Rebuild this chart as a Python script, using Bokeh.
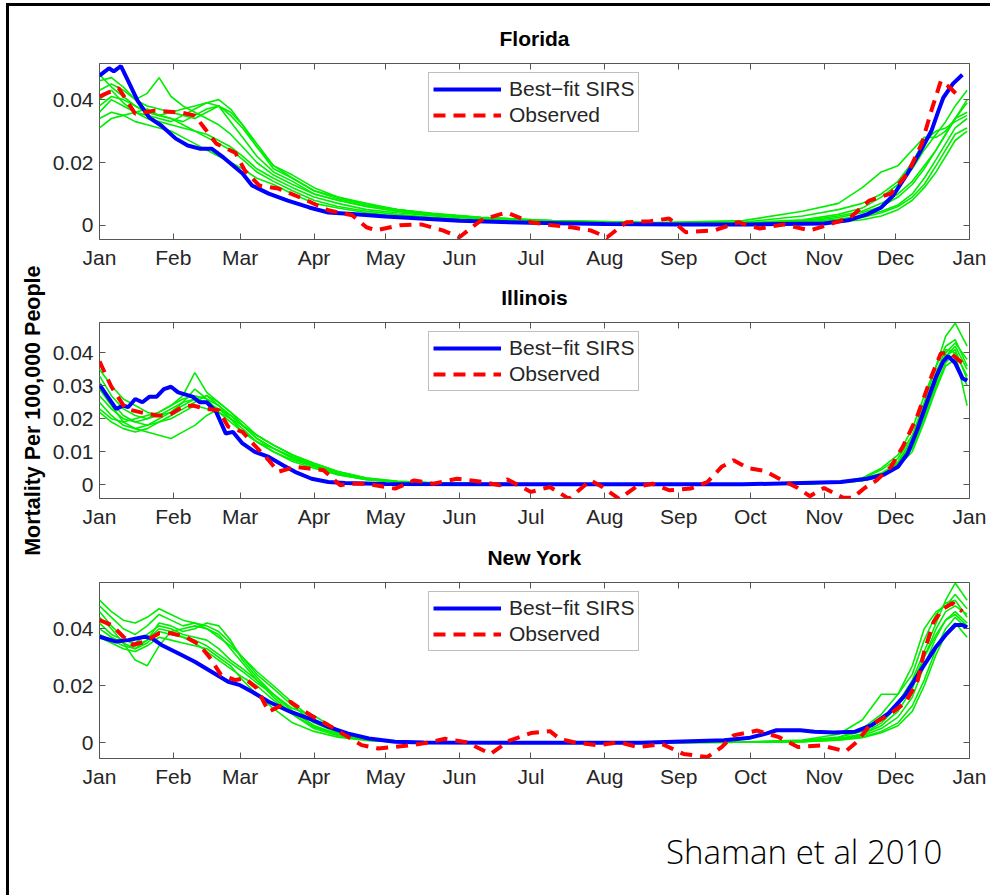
import math
from bokeh.plotting import figure
from bokeh.models import Range1d, FixedTicker, LinearAxis, Legend, LegendItem, Div
from bokeh.layouts import column, row
from bokeh.core.properties import value
from bokeh.embed import file_html
from bokeh.resources import INLINE

# ---------------- data ----------------
MONTH_DAYS = [0, 31, 59, 90, 120, 151, 181, 212, 243, 273, 304, 334, 365]
MONTH_LABELS = ["Jan", "Feb", "Mar", "Apr", "May", "Jun", "Jul", "Aug", "Sep", "Oct", "Nov", "Dec", "Jan"]

# day-of-year grid used by the ensemble (green) simulations
ENS_DAY = [0, 5, 10, 15, 20, 25, 30, 35, 40, 45, 50, 55, 60, 66, 73, 81, 90, 100, 112, 125,
           140, 160, 190, 230, 270, 295, 310, 320, 328, 335, 341, 346, 351, 355, 359, 364]

# ---- Florida ----
FL_ENS = [
    [0.031, 0.034, 0.035, 0.036, 0.037, 0.035, 0.034, 0.032, 0.030, 0.028, 0.026, 0.024, 0.021, 0.017, 0.014, 0.011, 0.008, 0.006, 0.0045, 0.0035, 0.0025, 0.0017, 0.001, 0.0006, 0.0005, 0.0008, 0.0015, 0.0025, 0.004, 0.006, 0.009, 0.013, 0.019, 0.024, 0.029, 0.031],
    [0.034, 0.036, 0.035, 0.033, 0.032, 0.031, 0.030, 0.028, 0.026, 0.024, 0.022, 0.020, 0.018, 0.015, 0.013, 0.010, 0.007, 0.0055, 0.004, 0.003, 0.0022, 0.0015, 0.0009, 0.0005, 0.0004, 0.0006, 0.001, 0.0018, 0.003, 0.005, 0.008, 0.012, 0.017, 0.022, 0.027, 0.030],
    [0.036, 0.040, 0.038, 0.036, 0.034, 0.033, 0.032, 0.031, 0.030, 0.029, 0.027, 0.025, 0.022, 0.018, 0.015, 0.012, 0.009, 0.007, 0.005, 0.004, 0.003, 0.002, 0.0012, 0.0007, 0.0006, 0.0015, 0.003, 0.0045, 0.007, 0.010, 0.014, 0.019, 0.024, 0.029, 0.034, 0.036],
    [0.038, 0.041, 0.040, 0.038, 0.036, 0.035, 0.036, 0.037, 0.038, 0.039, 0.038, 0.033, 0.028, 0.022, 0.017, 0.014, 0.010, 0.008, 0.006, 0.0045, 0.0033, 0.0023, 0.0013, 0.0008, 0.001, 0.003, 0.005, 0.007, 0.010, 0.014, 0.020, 0.027, 0.030, 0.031, 0.033, 0.035],
    [0.040, 0.043, 0.039, 0.036, 0.035, 0.034, 0.033, 0.035, 0.037, 0.039, 0.040, 0.037, 0.032, 0.025, 0.018, 0.015, 0.011, 0.009, 0.0065, 0.005, 0.0036, 0.0025, 0.0015, 0.0009, 0.0007, 0.0012, 0.0025, 0.004, 0.006, 0.009, 0.013, 0.018, 0.024, 0.029, 0.034, 0.040],
    [0.043, 0.045, 0.043, 0.040, 0.038, 0.037, 0.036, 0.035, 0.034, 0.036, 0.038, 0.036, 0.032, 0.026, 0.019, 0.016, 0.012, 0.009, 0.007, 0.005, 0.0038, 0.0026, 0.0015, 0.0009, 0.0008, 0.0018, 0.0035, 0.0055, 0.009, 0.013, 0.018, 0.024, 0.029, 0.033, 0.038, 0.043],
    [0.046, 0.047, 0.044, 0.040, 0.042, 0.047, 0.041, 0.038, 0.036, 0.034, 0.032, 0.029, 0.025, 0.020, 0.016, 0.013, 0.010, 0.008, 0.006, 0.0045, 0.0033, 0.0023, 0.0013, 0.0008, 0.0015, 0.0045, 0.007, 0.012, 0.017, 0.019, 0.024, 0.028, 0.028, 0.030, 0.034, 0.039],
    [0.048, 0.044, 0.041, 0.038, 0.036, 0.035, 0.034, 0.033, 0.035, 0.037, 0.038, 0.035, 0.031, 0.025, 0.019, 0.015, 0.011, 0.0085, 0.0065, 0.005, 0.0036, 0.0025, 0.0014, 0.0008, 0.0007, 0.001, 0.002, 0.003, 0.0045, 0.0065, 0.010, 0.015, 0.021, 0.026, 0.031, 0.034],
]
FL_FIT_DAY = [0, 4, 6, 9, 12, 16, 21, 26, 32, 37, 42, 47, 52, 57, 60, 64, 71, 79, 88, 96,
              106, 120, 151, 181, 212, 243, 273, 304, 314, 322, 328, 333, 339, 344, 349, 352, 354, 358, 362]
FL_FIT = [0.0476, 0.050, 0.049, 0.0507, 0.046, 0.0396, 0.0342, 0.0317, 0.0276, 0.0254,
          0.0244, 0.0244, 0.0216, 0.0184, 0.0165, 0.0127, 0.0101, 0.0079, 0.0057, 0.0041,
          0.0036, 0.0028, 0.0015, 0.0008, 0.0004, 0.0003, 0.0003, 0.0006, 0.0016, 0.0035,
          0.0057, 0.0095, 0.0165, 0.023, 0.030, 0.0365, 0.0406, 0.045, 0.0479]
FL_OBS_DAY = [0, 8, 15, 23, 35, 40, 44, 49, 57, 61, 67, 75, 85, 96, 106, 112, 116, 126, 135, 144,
              151, 160, 168, 171, 181, 190, 198, 206, 213, 221, 231, 239, 246, 258, 268, 277, 287, 298, 305, 315,
              323, 332, 339, 345, 349, 353, 357, 361]
FL_OBS = [0.041, 0.0437, 0.0355, 0.0365, 0.0358, 0.0349, 0.031, 0.026, 0.0231, 0.0174,
          0.0127, 0.0117, 0.0086, 0.0048, 0.0032, -0.0006, -0.0016, 0.0, 0.0003, -0.0016,
          -0.0038, 0.0016, 0.0035, 0.004, 0.001, 0.0, -0.0006, -0.0016, -0.0038, 0.001,
          0.0013, 0.0022, -0.0022, -0.0016, 0.001, -0.001, 0.0003, -0.0016, 0.0, 0.0025,
          0.0079, 0.0101, 0.0165, 0.026, 0.0365, 0.046, 0.0437, 0.0406]

# ---- Illinois ----
IL_ENS = [
    [0.035, 0.030, 0.026, 0.024, 0.022, 0.021, 0.022, 0.024, 0.026, 0.025, 0.023, 0.020, 0.017, 0.013, 0.010, 0.007, 0.005, 0.003, 0.0015, 0.0008, 0.0005, 0.0003, 0.0002, 0.0002, 0.0002, 0.0003, 0.0006, 0.0012, 0.0025, 0.006, 0.012, 0.022, 0.032, 0.040, 0.043, 0.038],
    [0.033, 0.027, 0.023, 0.021, 0.020, 0.022, 0.024, 0.027, 0.034, 0.028, 0.025, 0.022, 0.018, 0.014, 0.011, 0.008, 0.006, 0.0035, 0.0018, 0.0009, 0.0005, 0.0003, 0.0002, 0.0002, 0.0002, 0.0004, 0.0008, 0.0018, 0.0045, 0.008, 0.015, 0.025, 0.036, 0.045, 0.049, 0.042],
    [0.031, 0.025, 0.021, 0.019, 0.018, 0.019, 0.021, 0.023, 0.025, 0.027, 0.025, 0.022, 0.019, 0.015, 0.012, 0.009, 0.006, 0.0035, 0.0018, 0.0009, 0.0005, 0.0003, 0.0002, 0.0002, 0.0002, 0.0003, 0.0007, 0.0015, 0.003, 0.007, 0.014, 0.024, 0.034, 0.041, 0.040, 0.024],
    [0.029, 0.024, 0.019, 0.017, 0.016, 0.015, 0.014, 0.016, 0.018, 0.021, 0.023, 0.021, 0.018, 0.014, 0.011, 0.008, 0.0055, 0.003, 0.0016, 0.0008, 0.0005, 0.0003, 0.0002, 0.0002, 0.0002, 0.0003, 0.0006, 0.0013, 0.003, 0.006, 0.012, 0.021, 0.031, 0.039, 0.042, 0.035],
    [0.027, 0.023, 0.020, 0.019, 0.020, 0.021, 0.023, 0.025, 0.026, 0.027, 0.024, 0.020, 0.016, 0.013, 0.010, 0.0075, 0.0055, 0.0032, 0.0016, 0.0009, 0.0005, 0.0003, 0.0002, 0.0002, 0.0002, 0.0004, 0.0009, 0.002, 0.005, 0.009, 0.017, 0.027, 0.036, 0.042, 0.044, 0.036],
    [0.025, 0.021, 0.018, 0.017, 0.018, 0.020, 0.022, 0.025, 0.029, 0.026, 0.022, 0.019, 0.016, 0.013, 0.011, 0.0085, 0.006, 0.0035, 0.0018, 0.0009, 0.0005, 0.0003, 0.0002, 0.0002, 0.0002, 0.0003, 0.0007, 0.0016, 0.0035, 0.0065, 0.013, 0.023, 0.033, 0.039, 0.041, 0.032],
    [0.023, 0.020, 0.019, 0.020, 0.021, 0.022, 0.024, 0.026, 0.027, 0.026, 0.024, 0.021, 0.018, 0.015, 0.012, 0.009, 0.0065, 0.004, 0.002, 0.001, 0.0006, 0.0004, 0.0002, 0.0002, 0.0002, 0.0003, 0.0006, 0.0014, 0.003, 0.006, 0.011, 0.020, 0.030, 0.037, 0.040, 0.033],
    [0.022, 0.019, 0.017, 0.016, 0.017, 0.019, 0.020, 0.022, 0.024, 0.023, 0.022, 0.020, 0.018, 0.015, 0.012, 0.009, 0.0065, 0.004, 0.002, 0.001, 0.0006, 0.0004, 0.0002, 0.0002, 0.0002, 0.0003, 0.0005, 0.0012, 0.0028, 0.0055, 0.010, 0.019, 0.029, 0.036, 0.038, 0.030],
]
IL_FIT_DAY = [0, 7, 10, 12, 15, 18, 21, 24, 27, 30, 33, 39, 42, 45, 49, 53, 56, 60, 65, 71,
              77, 82, 89, 96, 103, 120, 180, 270, 311, 322, 329, 335, 339, 343, 347, 351, 354, 356, 359, 362, 364]
IL_FIT = [0.0303, 0.023, 0.024, 0.0235, 0.026, 0.025, 0.0267, 0.0267, 0.029, 0.0297,
          0.028, 0.0267, 0.025, 0.025, 0.022, 0.0155, 0.016, 0.0125, 0.010, 0.0084,
          0.0059, 0.0039, 0.0018, 0.0008, 0.0005, 0.0002, 0.0001, 0.0001, 0.0008, 0.0018,
          0.003, 0.0054, 0.0094, 0.0165, 0.0247, 0.0328, 0.0374, 0.039, 0.0369, 0.0323, 0.0315]
IL_OBS_DAY = [0, 5, 11, 17, 24, 29, 35, 39, 45, 50, 54, 60, 65, 71, 75, 82, 88, 94, 101, 105,
              112, 124, 132, 140, 150, 161, 168, 171, 181, 189, 197, 206, 211, 218, 225, 232, 239, 248, 255, 261,
              266, 272, 279, 286, 293, 298, 304, 312, 316, 321, 326, 332, 337, 343, 349, 353, 357, 362]
IL_OBS = [0.0374, 0.0297, 0.023, 0.022, 0.021, 0.021, 0.0237, 0.024, 0.023, 0.0226,
          0.0176, 0.016, 0.012, 0.0074, 0.0039, 0.0054, 0.0049, 0.0044, -0.0002, 0.0003,
          0.0003, -0.0012, 0.0013, 0.0003, 0.0018, 0.0008, -0.0002, 0.0016, -0.0022, -0.0007,
          -0.0043, 0.0013, -0.0007, -0.0043, -0.0007, 0.0003, -0.0017, -0.0012, 0.0008, 0.0054,
          0.0074, 0.005, 0.0042, 0.0015, -0.001, -0.0035, -0.001, -0.004, -0.004, -0.001,
          0.0013, 0.0054, 0.0115, 0.0206, 0.0328, 0.0399, 0.0399, 0.0369]

# ---- New York ----
NY_ENS = [
    [0.050, 0.046, 0.043, 0.042, 0.044, 0.047, 0.045, 0.043, 0.042, 0.040, 0.037, 0.034, 0.030, 0.025, 0.020, 0.014, 0.008, 0.004, 0.0015, 0.0005, 0.0002, 0.0001, 0.0001, 0.0001, 0.0002, 0.0008, 0.002, 0.004, 0.008, 0.014, 0.022, 0.032, 0.042, 0.050, 0.056, 0.050],
    [0.048, 0.044, 0.040, 0.038, 0.041, 0.045, 0.043, 0.041, 0.042, 0.041, 0.039, 0.035, 0.030, 0.024, 0.019, 0.013, 0.007, 0.0035, 0.0013, 0.0004, 0.0002, 0.0001, 0.0001, 0.0001, 0.0002, 0.0006, 0.0018, 0.005, 0.010, 0.017, 0.027, 0.040, 0.046, 0.048, 0.052, 0.047],
    [0.046, 0.041, 0.037, 0.034, 0.036, 0.042, 0.041, 0.039, 0.040, 0.042, 0.041, 0.036, 0.029, 0.023, 0.017, 0.011, 0.006, 0.003, 0.001, 0.0004, 0.0002, 0.0001, 0.0001, 0.0001, 0.0003, 0.001, 0.003, 0.008, 0.017, 0.017, 0.024, 0.036, 0.045, 0.049, 0.050, 0.044],
    [0.044, 0.040, 0.035, 0.029, 0.027, 0.034, 0.039, 0.040, 0.041, 0.040, 0.038, 0.033, 0.028, 0.022, 0.016, 0.010, 0.005, 0.0025, 0.0009, 0.0003, 0.0001, 0.0001, 0.0001, 0.0001, 0.0002, 0.0006, 0.0015, 0.003, 0.006, 0.011, 0.019, 0.030, 0.040, 0.046, 0.048, 0.045],
    [0.042, 0.038, 0.036, 0.035, 0.038, 0.041, 0.040, 0.038, 0.037, 0.036, 0.033, 0.029, 0.026, 0.022, 0.017, 0.011, 0.006, 0.003, 0.0011, 0.0004, 0.0002, 0.0001, 0.0001, 0.0001, 0.0002, 0.0005, 0.0012, 0.0025, 0.005, 0.009, 0.016, 0.027, 0.037, 0.043, 0.046, 0.042],
    [0.040, 0.037, 0.035, 0.033, 0.035, 0.039, 0.038, 0.037, 0.036, 0.034, 0.031, 0.028, 0.025, 0.021, 0.017, 0.012, 0.0095, 0.0045, 0.0015, 0.0005, 0.0002, 0.0001, 0.0001, 0.0001, 0.0002, 0.0004, 0.001, 0.002, 0.004, 0.007, 0.013, 0.022, 0.033, 0.040, 0.044, 0.040],
    [0.038, 0.036, 0.034, 0.033, 0.036, 0.040, 0.039, 0.037, 0.035, 0.032, 0.029, 0.026, 0.023, 0.020, 0.015, 0.010, 0.0055, 0.003, 0.001, 0.0004, 0.0002, 0.0001, 0.0001, 0.0001, 0.0002, 0.0004, 0.0009, 0.0018, 0.0035, 0.006, 0.011, 0.020, 0.031, 0.038, 0.042, 0.037],
    [0.037, 0.035, 0.033, 0.032, 0.034, 0.037, 0.036, 0.035, 0.034, 0.033, 0.030, 0.027, 0.022, 0.017, 0.012, 0.007, 0.004, 0.002, 0.0008, 0.0003, 0.0001, 0.0001, 0.0001, 0.0001, 0.0002, 0.0005, 0.0012, 0.003, 0.007, 0.013, 0.021, 0.030, 0.038, 0.043, 0.045, 0.041],
]
NY_FIT_DAY = [0, 7, 12, 19, 22, 26, 33, 40, 47, 54, 59, 64, 71, 80, 88, 96, 104, 113, 124, 136,
              180, 227, 262, 273, 280, 284, 294, 300, 308, 317, 324, 331, 338, 345, 351, 355, 359, 362, 364]
NY_FIT = [0.0372, 0.0355, 0.036, 0.0372, 0.0366, 0.0343, 0.0314, 0.0284, 0.0249, 0.0214,
          0.0202, 0.0179, 0.0144, 0.0109, 0.0085, 0.0056, 0.0033, 0.0015, 0.0004, 0.0001,
          0.0, 0.0, 0.0009, 0.0018, 0.0033, 0.0044, 0.0044, 0.0039, 0.0036, 0.0039,
          0.0062, 0.0103, 0.0167, 0.026, 0.0337, 0.0378, 0.0413, 0.0413, 0.0404]
NY_OBS_DAY = [0, 5, 10, 14, 19, 25, 30, 36, 42, 46, 51, 57, 61, 66, 71, 75, 80, 85, 91, 96,
              103, 110, 117, 124, 131, 136, 145, 154, 164, 172, 181, 189, 193, 199, 209, 218, 226, 236, 245, 255,
              261, 266, 276, 285, 293, 303, 313, 318, 323, 331, 338, 343, 346, 350, 354, 358, 362]
NY_OBS = [0.043, 0.0413, 0.0372, 0.0343, 0.0355, 0.0384, 0.0384, 0.0372, 0.0343, 0.0302,
          0.0238, 0.022, 0.0226, 0.0191, 0.0109, 0.0126, 0.0144, 0.0115, 0.0085, 0.0062,
          0.0027, -0.0008, -0.002, -0.0014, -0.0008, -0.0002, 0.0014, 0.0002, -0.0039, 0.0008,
          0.0034, 0.0041, 0.0014, 0.0002, -0.0009, 0.0002, -0.0015, -0.0004, -0.0039, -0.005,
          -0.0015, 0.0026, 0.0043, 0.002, -0.0015, -0.0009, -0.003, 0.0005, 0.006, 0.0097,
          0.014, 0.021, 0.032, 0.0425, 0.047, 0.049, 0.046]

STATES = ["Florida", "Illinois", "New York"]
Y_RANGES = [(-0.0045, 0.0515), (-0.0042, 0.0492), (-0.0055, 0.0562)]
Y_TICKS = [[0, 0.02, 0.04], [0, 0.01, 0.02, 0.03, 0.04], [0, 0.02, 0.04]]
Y_TICK_LABELS = [["0", "0.02", "0.04"], ["0", "0.01", "0.02", "0.03", "0.04"], ["0", "0.02", "0.04"]]
Y_LABEL = "Mortality Per 100,000 People"
LEGEND_LABELS = ["Best\u2212fit SIRS", "Observed"]
CREDIT = "Shaman et al 2010"

FONT = "Liberation Sans"
FS = "21px"
BOX = "#555555"
LABEL_W = 40
PANEL_W = 939


def style_axis(ax, hidden=False):
    ax.axis_line_color = None
    ax.major_tick_in = 6
    ax.major_tick_out = 0
    ax.major_tick_line_color = BOX
    ax.minor_tick_line_color = None
    ax.major_label_text_font = FONT
    ax.major_label_text_font_size = "0px" if hidden else FS
    ax.major_label_text_color = "#262626"
    ax.major_label_standoff = 0 if hidden else 6


def make_panel(idx, ens, fit_day, fit, obs_day, obs, height, top, bottom):
    lo, hi = Y_RANGES[idx]
    p = figure(width=PANEL_W, height=height, x_range=Range1d(0, 365), y_range=Range1d(lo, hi),
               output_backend="svg", toolbar_location=None,
               min_border_left=50, min_border_right=19, min_border_top=top, min_border_bottom=bottom)
    p.grid.visible = False
    p.outline_line_color = BOX
    p.outline_line_width = 1
    p.background_fill_color = "white"
    p.border_fill_color = "white"

    xt = FixedTicker(ticks=MONTH_DAYS, minor_ticks=[])
    yt = FixedTicker(ticks=Y_TICKS[idx], minor_ticks=[])
    xa = p.xaxis[0]
    xa.ticker = xt
    xa.major_label_overrides = dict(zip(MONTH_DAYS, MONTH_LABELS))
    style_axis(xa)
    ya = p.yaxis[0]
    ya.ticker = yt
    ya.major_label_overrides = dict(zip(Y_TICKS[idx], Y_TICK_LABELS[idx]))
    style_axis(ya)

    # top axis: inward ticks only; its axis label carries the state name
    ta = LinearAxis(ticker=xt, major_label_overrides={d: "" for d in MONTH_DAYS})
    style_axis(ta, hidden=True)
    ta.axis_label = STATES[idx]
    ta.axis_label_text_font = FONT
    ta.axis_label_text_font_size = FS
    ta.axis_label_text_font_style = "bold"
    ta.axis_label_text_color = "black"
    ta.axis_label_standoff = 14
    p.add_layout(ta, "above")
    ra = LinearAxis(ticker=yt, major_label_overrides={t: "" for t in Y_TICKS[idx]})
    style_axis(ra, hidden=True)
    p.add_layout(ra, "right")

    for ys in ens:
        p.line(ENS_DAY, ys, line_color="#00ee00", line_width=1.6)
    r_fit = p.line(fit_day, fit, line_color="#0000ff", line_width=4)
    r_obs = p.line(obs_day, obs, line_color="#ff0000", line_width=4, line_dash="12 8")

    leg = Legend(items=[LegendItem(label=LEGEND_LABELS[0], renderers=[r_fit]),
                        LegendItem(label=LEGEND_LABELS[1], renderers=[r_obs])],
                 location=(329, 107))
    leg.label_text_font = FONT
    leg.label_text_font_size = FS
    leg.label_text_color = "#262626"
    leg.glyph_width = 68
    leg.glyph_height = 24
    leg.label_height = 24
    leg.label_standoff = 8
    leg.padding = 4
    leg.spacing = 2
    leg.margin = 0
    leg.border_line_color = "#808080"
    leg.border_line_width = 1
    leg.background_fill_color = "white"
    leg.background_fill_alpha = 1
    p.add_layout(leg)
    return p


p1 = make_panel(0, FL_ENS, FL_FIT_DAY, FL_FIT, FL_OBS_DAY, FL_OBS, 274, 57, 41)
p2 = make_panel(1, IL_ENS, IL_FIT_DAY, IL_FIT, IL_OBS_DAY, IL_OBS, 260, 42, 42)
p3 = make_panel(2, NY_ENS, NY_FIT_DAY, NY_FIT, NY_OBS_DAY, NY_OBS, 260, 42, 42)

# shared y-axis title, spanning all three panels
lab = figure(width=LABEL_W, height=794, x_range=Range1d(0, 1), y_range=Range1d(0, 1),
             x_axis_type=None, y_axis_type=None, output_backend="svg", toolbar_location=None,
             min_border=0)
lab.grid.visible = False
lab.outline_line_color = None
lab.text(x=[0.575], y=[0.491], text=[Y_LABEL], angle=math.pi / 2,
         text_align="center", text_baseline="middle",
         text_font=value(FONT), text_font_style="bold", text_font_size="21.5px", text_color="black")

credit = Div(
    text=('<div style="margin:24px 0 0 652px;font-family:\'Open Sans\';font-weight:300;'
          'font-size:33px;line-height:normal;white-space:nowrap;color:#000">' + CREDIT + '</div>'),
    width=PANEL_W + LABEL_W, height=85)

layout = column(row(lab, column(p1, p2, p3, spacing=0), spacing=0), credit, spacing=0,
                styles={"margin-left": "6px", "margin-top": "3px",
                        "border-left": "3px solid #000", "border-top": "3px solid #000"})

open("out.html", "w").write(file_html(layout, INLINE))
